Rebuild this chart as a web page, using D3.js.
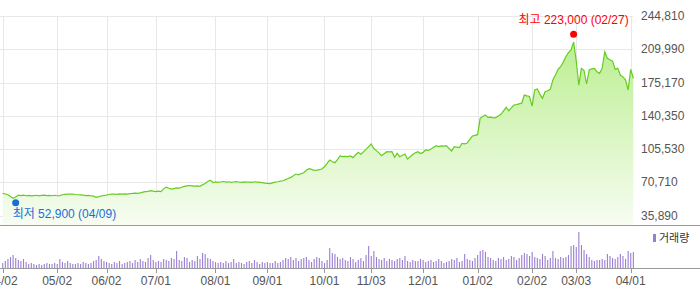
<!DOCTYPE html>
<html>
<head>
    <meta charset="utf-8">
    <title>주가 차트</title>
    <style>
        body { margin: 0; background: #fff; }
        svg { display: block; }
        text { font-family: "Liberation Sans", "Noto Sans CJK KR", sans-serif; }
        .axis text { font-size: 12px; fill: #555; }
    </style>
    <script src="https://d3js.org/d3.v7.min.js"></script>
</head>
<body>
<script type="application/javascript">
  // 종가 (천원), 2025-04-02 ~ 2026-04-02 거래일
  var closes = [
    59.1, 58.4, 57.6, 55.9, 54.0, 55.2, 57.3, 56.7, 57.2, 56.6,
    56.9, 56.4, 56.8, 57.1, 56.5, 56.9, 57.2, 56.8, 57.0, 56.6,
    57.1, 56.6, 56.8, 57.6, 58.1, 58.4, 58.2, 58.4, 57.9, 57.6,
    57.5, 57.2, 56.8, 57.0, 56.6, 56.1, 55.0, 55.6, 56.3, 56.9,
    57.3, 57.9, 58.2, 58.4, 58.0, 58.5, 58.3, 58.6, 58.2, 58.8,
    59.0, 59.4, 59.1, 59.6, 60.3, 60.8, 61.2, 62.0, 61.4, 60.9,
    61.5, 60.9, 63.8, 65.6, 64.4, 63.5, 64.0, 64.8, 64.5, 65.5,
    66.4, 66.9, 67.3, 67.0, 66.6, 66.9, 66.5, 68.0, 69.5, 71.5,
    72.8, 70.4, 71.0, 70.5, 71.0, 71.5, 70.8, 71.2, 70.5, 71.0,
    71.3, 71.0, 70.6, 71.0, 70.8, 70.9, 70.5, 71.2, 70.9, 70.6,
    70.3, 69.8, 69.6, 69.3, 70.0, 70.8, 71.2, 71.8, 72.3, 73.5,
    74.6, 75.8, 77.5, 79.3, 78.4, 79.8, 80.7, 83.2, 84.9, 84.2,
    83.2, 83.5, 84.0, 84.6, 86.9, 90.5, 94.0, 92.2, 91.2, 94.5,
    98.2, 97.5, 97.9, 97.6, 98.2, 96.5, 99.5, 102.0, 100.0, 102.5,
    105.2, 108.0, 110.8, 106.0, 103.8, 101.5, 98.5, 100.5, 102.7, 102.5,
    102.7, 96.8, 101.0, 97.5, 99.0, 100.3, 95.0, 97.5, 99.8, 101.5,
    102.7, 100.8, 102.0, 104.5, 104.0, 105.5, 107.0, 109.0, 108.0, 108.8,
    108.5, 109.0, 106.0, 103.4, 108.0, 107.5, 107.0, 111.5, 111.0, 111.8,
    115.5, 119.1, 119.8, 120.5, 137.7, 139.5, 141.1, 138.7, 138.9, 138.2,
    138.4, 140.2, 141.9, 145.5, 149.2, 145.6, 148.5, 151.6, 152.0, 152.8,
    153.5, 162.0, 161.2, 160.5, 150.5, 167.3, 168.4, 163.0, 158.6, 165.5,
    166.5, 168.0, 177.8, 183.0, 189.0, 191.7, 196.5, 202.2, 206.5, 209.2,
    217.5, 198.0, 172.5, 190.0, 188.0, 173.6, 188.3, 189.5, 190.0, 186.5,
    184.8, 190.0, 207.4, 200.5, 199.0, 197.5, 189.0, 190.0, 183.0, 181.0,
    178.0, 167.3, 189.0, 179.6
  ];

  // 거래량 (백만주)
  var volumes = [
    5, 7, 9, 11, 13, 10, 8, 7, 9, 6,
    4, 5, 4, 3, 4, 3, 4, 5, 4, 4,
    5, 4, 9, 6, 5, 7, 5, 4, 4, 5,
    4, 6, 5, 4, 5, 7, 8, 12, 9, 7,
    6, 5, 4, 6, 5, 7, 4, 5, 6, 7,
    5, 8, 6, 9, 7, 6, 10, 13, 8, 6,
    7, 6, 9, 8, 7, 10, 9, 17, 8, 7,
    11, 10, 6, 8, 7, 12, 9, 15, 14, 10,
    9, 7, 6, 5, 6, 5, 7, 5, 6, 9,
    5, 6, 5, 4, 6, 7, 5, 8, 6, 4,
    6, 5, 6, 5, 5, 7, 5, 6, 8, 10,
    9, 11, 8, 10, 7, 9, 10, 11, 8, 6,
    9, 11, 10, 7, 5, 8, 20, 15, 14, 11,
    9, 10, 8, 7, 11, 9, 6, 8, 10, 7,
    13, 22, 12, 17, 11, 9, 8, 10, 7, 9,
    8, 7, 9, 10, 8, 12, 7, 6, 8, 7,
    7, 9, 8, 6, 7, 8, 6, 7, 9, 7,
    5, 6, 7, 9, 8, 10, 6, 7, 14, 9,
    8, 7, 10, 13, 17, 18, 16, 11, 10, 8,
    7, 10, 9, 11, 8, 9, 12, 11, 8, 10,
    13, 15, 14, 12, 16, 11, 10, 9, 14, 12,
    8, 10, 17, 10, 9, 11, 10, 11, 13, 22,
    23, 21, 36, 23, 18, 14, 11, 8, 7, 8,
    8, 9, 8, 14, 12, 10, 9, 11, 14, 12,
    9, 17, 15, 16
  ];

  // 휴장일
  var holidays = ["2025-05-01", "2025-05-05", "2025-05-06", "2025-06-03", "2025-06-06",
    "2025-08-15", "2025-10-03", "2025-10-06", "2025-10-07", "2025-10-08", "2025-10-09",
    "2025-12-25", "2025-12-31", "2026-01-01", "2026-02-16", "2026-02-17", "2026-02-18",
    "2026-03-02"];

  var xTickLabels = ["04/02", "05/02", "06/02", "07/01", "08/01", "09/01", "10/01",
    "11/03", "12/01", "01/02", "02/02", "03/03", "04/01"];
  var yTickValues = [35890, 70710, 105530, 140350, 175170, 209990, 244810];

  var high = {label: "최고", value: 223000, date: "02/27"};
  var low = {label: "최저", value: 52900, date: "04/09"};

  var width = 700, height = 289;
  var fmtDay = d3.timeFormat("%Y-%m-%d"), fmtMD = d3.timeFormat("%m/%d");

  // 거래일 목록
  var days = [];
  var d = new Date(2025, 3, 2);
  while (days.length < closes.length) {
    var wd = d.getDay();
    if (wd !== 0 && wd !== 6 && holidays.indexOf(fmtDay(d)) < 0) days.push(new Date(d));
    d.setDate(d.getDate() + 1);
  }
  var labels = days.map(fmtMD);

  var data = closes.map(function (c, i) {
    return {i: i, md: labels[i], close: c * 1000, vol: volumes[i]};
  });

  var svg = d3.select("body").append("svg")
              .attr("width", width)
              .attr("height", height);

  var x = d3.scaleLinear().domain([0, data.length - 1]).range([2.7, 633.3]);
  var y = d3.scaleLinear().domain([35890, 244810]).range([215.5, 16]);
  var yv = d3.scaleLinear().domain([0, 40]).range([268, 228]);

  var tickIdx = xTickLabels.map(function (l) { return labels.indexOf(l); });

  // 그라데이션
  var grad = svg.append("defs").append("linearGradient")
                .attr("id", "areaFill")
                .attr("gradientUnits", "userSpaceOnUse")
                .attr("x1", 0).attr("y1", 16).attr("x2", 0).attr("y2", 225);
  grad.append("stop").attr("offset", "0%").attr("stop-color", "#b4ec84");
  grad.append("stop").attr("offset", "100%").attr("stop-color", "#f7fdf2");

  // 그리드
  svg.append("g").selectAll("line")
     .data(yTickValues)
     .enter().append("line")
     .attr("x1", 0).attr("x2", 633)
     .attr("y1", function (v) { return Math.round(y(v)) + 0.5; })
     .attr("y2", function (v) { return Math.round(y(v)) + 0.5; })
     .attr("stroke", "#e8e8e8");

  svg.append("g").selectAll("line")
     .data(tickIdx)
     .enter().append("line")
     .attr("x1", function (i) { return Math.round(x(i)) + 0.5; })
     .attr("x2", function (i) { return Math.round(x(i)) + 0.5; })
     .attr("y1", 16).attr("y2", 225)
     .attr("stroke", "#e8e8e8");

  // 주가 영역
  svg.append("path")
     .datum(data)
     .attr("fill", "url(#areaFill)")
     .attr("d", d3.area()
       .x(function (d) { return x(d.i); })
       .y0(225)
       .y1(function (d) { return y(d.close); }));

  svg.append("path")
     .datum(data)
     .attr("fill", "none")
     .attr("stroke", "#66cc22")
     .attr("stroke-width", 1.2)
     .attr("d", d3.line()
       .x(function (d) { return x(d.i); })
       .y(function (d) { return y(d.close); }));

  // y축 라벨
  svg.append("g").attr("class", "axis")
     .selectAll("text")
     .data(yTickValues)
     .enter().append("text")
     .attr("x", 641)
     .attr("y", function (v) { return y(v); })
     .attr("dy", "0.35em")
     .text(d3.format(","));

  // 구분선
  svg.append("line").attr("x1", 0).attr("x2", width).attr("y1", 225.5).attr("y2", 225.5)
     .attr("stroke", "#999");

  // 거래량
  svg.append("g").selectAll("rect")
     .data(data)
     .enter().append("rect")
     .attr("x", function (d) { return x(d.i) - 0.5; })
     .attr("width", 1.1)
     .attr("y", function (d) { return yv(d.vol); })
     .attr("height", function (d) { return 268 - yv(d.vol); })
     .attr("fill", "#9a7ed2");

  // x축
  var xAxis = svg.append("g").attr("class", "axis")
                 .attr("transform", "translate(0,268)");
  xAxis.append("line").attr("x1", 0).attr("x2", width).attr("y1", 0.5).attr("y2", 0.5)
       .attr("stroke", "#999");
  xAxis.selectAll(".tick")
       .data(tickIdx)
       .enter().append("line")
       .attr("x1", function (i) { return Math.round(x(i)) + 0.5; })
       .attr("x2", function (i) { return Math.round(x(i)) + 0.5; })
       .attr("y1", 0).attr("y2", 5)
       .attr("stroke", "#999");
  xAxis.selectAll("text")
       .data(tickIdx)
       .enter().append("text")
       .attr("x", function (i) { return x(i); })
       .attr("y", 17)
       .attr("text-anchor", "middle")
       .text(function (i, k) { return xTickLabels[k]; });

  // 범례
  svg.append("rect").attr("x", 653).attr("y", 234).attr("width", 3).attr("height", 8)
     .attr("fill", "#9a7ed2");
  svg.append("text").attr("x", 659).attr("y", 242)
     .attr("font-size", 11).attr("fill", "#333").text("거래량");

  // 최고 / 최저
  var hi = labels.indexOf(high.date), lo = labels.indexOf(low.date);
  svg.append("circle").attr("cx", x(hi)).attr("cy", y(high.value) - 2.5).attr("r", 3.5)
     .attr("fill", "#ff0000");
  svg.append("text").attr("x", x(hi)).attr("y", 24)
     .attr("text-anchor", "middle").attr("font-size", 12).attr("fill", "#ff0000")
     .text(high.label + " " + d3.format(",")(high.value) + " (" + high.date + ")");

  svg.append("circle").attr("cx", x(lo)).attr("cy", y(low.value) + 3.4).attr("r", 3.5)
     .attr("fill", "#1a6fd6");
  svg.append("text").attr("x", x(lo) - 3).attr("y", 218)
     .attr("font-size", 12).attr("fill", "#1a6fd6")
     .text(low.label + " " + d3.format(",")(low.value) + " (" + low.date + ")");
</script>
</body>
</html>
